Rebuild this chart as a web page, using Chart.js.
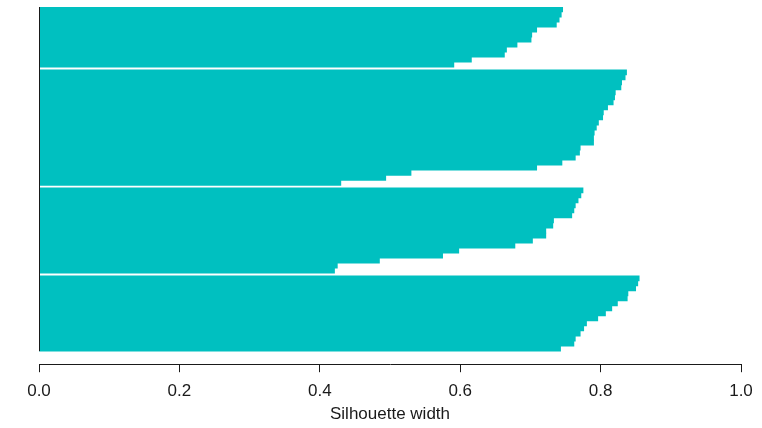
<!DOCTYPE html>
<html lang="en">
<head>
<meta charset="UTF-8">
<title>Silhouette plot</title>
<script src="https://cdn.jsdelivr.net/npm/chart.js"></script>
<style>
  html, body { margin: 0; padding: 0; background: #fff; }
  canvas { display: block; }
</style>
</head>
<body>
<canvas id="silChart" width="762" height="428"></canvas>
<script>
// silhouette widths per cluster, sorted as drawn (top to bottom)
var cluster1 = [0.746, 0.744, 0.741, 0.737, 0.709, 0.702, 0.701, 0.681, 0.666, 0.663, 0.616, 0.591];
var cluster2 = [0.837, 0.835, 0.830, 0.829, 0.821, 0.820, 0.818, 0.810, 0.804, 0.803, 0.797, 0.794,
                0.791, 0.790, 0.790, 0.771, 0.770, 0.764, 0.745, 0.709, 0.530, 0.494, 0.430];
var cluster3 = [0.775, 0.772, 0.768, 0.764, 0.762, 0.759, 0.733, 0.732, 0.722, 0.722, 0.703, 0.678,
                0.598, 0.575, 0.485, 0.425, 0.421];
var cluster4 = [0.855, 0.853, 0.850, 0.839, 0.838, 0.824, 0.816, 0.807, 0.796, 0.780, 0.776, 0.771,
                0.764, 0.762, 0.743];
var xTicks = [0, 0.2, 0.4, 0.6, 0.8, 1.0];
var xTitle = 'Silhouette width';

var clusters = [cluster1, cluster2, cluster3, cluster4];
var barColor = '#00C0C0';
var inkColor = '#1a1a1a';

// one bar per observation; half a bar of space between clusters (like R's plot.silhouette)
var points = [];
var pos = 0;
clusters.forEach(function (cl, c) {
    if (c > 0) pos += 0.5;
    cl.forEach(function (v) {
        points.push({ x: v, y: pos });
        pos += 1;
    });
});
var lastPos = pos - 1;

// thin black line at x = 0 along the bars
var zeroLine = {
    id: 'zeroLine',
    afterDatasetsDraw: function (chart) {
        var xs = chart.scales.x, ys = chart.scales.y;
        var ctx = chart.ctx;
        var px = Math.round(xs.getPixelForValue(0)) + 0.5;
        ctx.save();
        ctx.strokeStyle = inkColor;
        ctx.lineWidth = 1;
        ctx.beginPath();
        ctx.moveTo(px, ys.getPixelForValue(-0.5));
        ctx.lineTo(px, ys.getPixelForValue(lastPos + 0.5));
        ctx.stroke();
        ctx.restore();
    }
};

var ctx = document.getElementById('silChart').getContext('2d');
var silChart = new Chart(ctx, {
    type: 'bar',
    data: {
        datasets: [{
            data: points,
            backgroundColor: barColor,
            borderWidth: 0,
            barPercentage: 1,
            categoryPercentage: 1
        }]
    },
    options: {
        indexAxis: 'y',
        responsive: false,
        devicePixelRatio: 1,
        animation: false,
        layout: { padding: { top: 7, right: 21, left: 39, bottom: 1 } },
        plugins: { legend: { display: false }, tooltip: { enabled: false } },
        scales: {
            x: {
                type: 'linear',
                position: 'bottom',
                min: 0,
                max: 1,
                afterBuildTicks: function (scale) {
                    scale.ticks = xTicks.map(function (v) { return { value: v }; });
                },
                ticks: {
                    padding: 9,
                    color: inkColor,
                    font: { family: 'Liberation Sans, Arial, sans-serif', size: 17 },
                    callback: function (v) { return Number(v).toFixed(1); }
                },
                grid: { drawOnChartArea: false, drawTicks: true, tickLength: 8, color: inkColor },
                border: { display: true, color: inkColor, width: 1 },
                title: {
                    display: true,
                    text: xTitle,
                    color: inkColor,
                    font: { family: 'Liberation Sans, Arial, sans-serif', size: 17 },
                    padding: { top: -6, bottom: 2 }
                }
            },
            y: {
                type: 'linear',
                display: false,
                reverse: true,
                bounds: 'data',
                min: -0.5,
                max: lastPos + 3.1,
                afterBuildTicks: function (scale) { scale.ticks = []; }
            }
        }
    },
    plugins: [zeroLine]
});
</script>
</body>
</html>
